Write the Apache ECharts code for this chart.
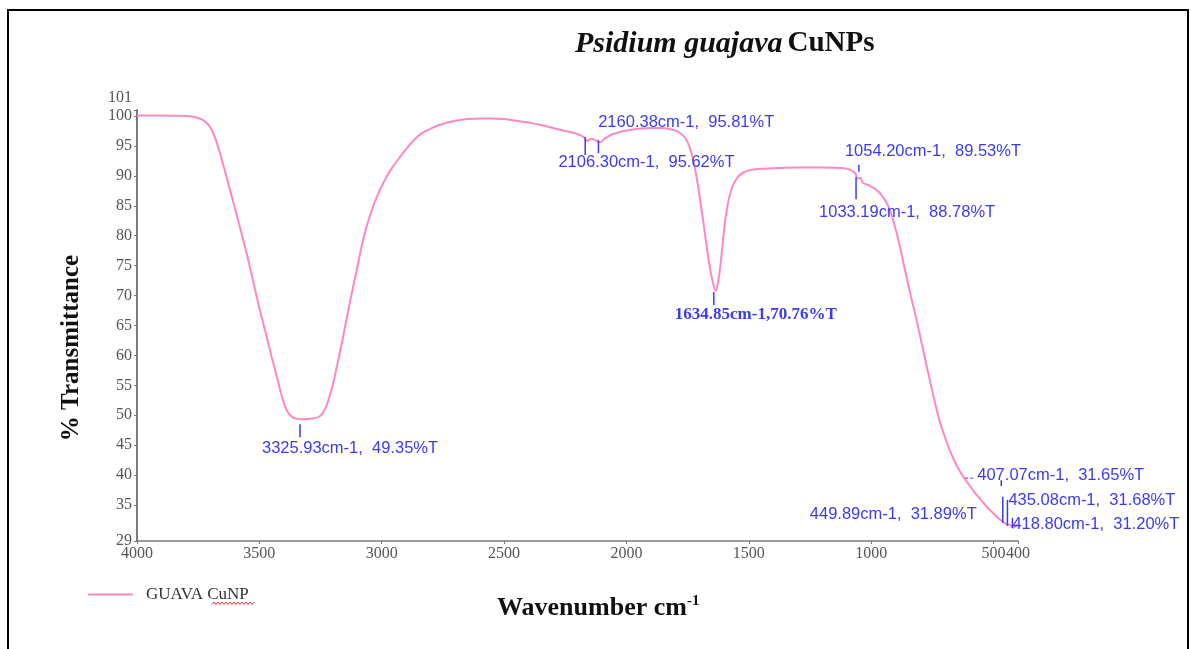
<!DOCTYPE html>
<html>
<head>
<meta charset="utf-8">
<title>Psidium guajava CuNPs FTIR</title>
<script src="https://cdn.jsdelivr.net/npm/echarts@6/dist/echarts.min.js"></script>
<style>
  html, body { margin: 0; padding: 0; background: #fff; }
  #chart { width: 1191px; height: 649px; }
</style>
</head>
<body>
<div id="chart"></div>
<script>
// spectrum (cm-1, %T)
const wavenumbers = [
  4000, 3900, 3800, 3760, 3730, 3705, 3685, 3670, 3650, 3630, 3600, 3575, 3550, 3525, 3500,
  3475, 3450, 3425, 3405, 3385, 3365, 3345, 3325.93, 3300, 3275, 3255, 3240, 3225, 3210, 3195,
  3180, 3160, 3130, 3100, 3075, 3050, 3020, 2990, 2960, 2930, 2900, 2870, 2840, 2800, 2750,
  2700, 2650, 2600, 2550, 2500, 2450, 2400, 2350, 2300, 2250, 2200, 2175, 2160.38, 2145, 2125,
  2106.30, 2090, 2060, 2020, 1980, 1940, 1900, 1860, 1820, 1790, 1770, 1752, 1735, 1720, 1705,
  1690, 1675, 1660, 1648, 1634.85, 1625, 1615, 1605, 1595, 1580, 1565, 1545, 1520, 1490, 1440,
  1380, 1300, 1200, 1120, 1085, 1065, 1054.20, 1045, 1040, 1033.19, 1020, 1000, 980, 960, 940,
  920, 900, 880, 860, 840, 820, 800, 780, 760, 740, 720, 700, 680, 660, 640,
  620, 600, 575, 550, 525, 500, 480, 465, 449.89, 435.08, 425, 418.80, 412, 407.07, 400
];
const transmittance = [
  100.1, 100.1, 100.0, 99.8, 99.3, 98.4, 96.8, 95.0, 92.2, 89.2, 84.6, 80.7, 76.7, 72.3, 67.9,
  63.9, 59.8, 55.9, 52.7, 50.6, 49.7, 49.4, 49.35, 49.4, 49.5, 49.8, 50.4, 51.7, 53.6, 55.9,
  58.8, 62.7, 68.9, 74.7, 79.5, 83.1, 86.5, 89.1, 91.2, 92.9, 94.5, 95.9, 97.0, 97.9, 98.7,
  99.2, 99.5, 99.6, 99.6, 99.5, 99.2, 98.9, 98.5, 98.0, 97.5, 97.0, 96.5, 95.81, 96.2, 95.9,
  95.62, 96.2, 96.9, 97.4, 97.7, 97.9, 98.0, 98.0, 97.8, 97.4, 96.8, 95.8, 93.9, 91.3, 87.6,
  83.5, 79.0, 74.9, 72.4, 70.76, 72.4, 75.4, 79.5, 83.1, 86.4, 88.4, 89.8, 90.6, 91.0, 91.2,
  91.3, 91.4, 91.4, 91.3, 91.0, 90.4, 89.53, 89.7, 89.4, 88.78, 88.6, 88.2, 87.7, 86.9, 85.7,
  83.9, 81.1, 77.7, 73.9, 70.3, 66.9, 63.2, 59.5, 55.8, 52.2, 49.0, 46.5, 44.3, 42.4, 40.8,
  39.5, 38.4, 37.0, 35.8, 34.6, 33.6, 32.8, 32.3, 31.89, 31.68, 31.4, 31.20, 31.4, 31.65, 31.8
];

// picked peaks
const peakWavenumbers = [3325.93, 2160.38, 2106.30, 1634.85, 1054.20, 1033.19, 449.89, 435.08, 418.80, 407.07];
const peakTransmittance = [49.35, 95.81, 95.62, 70.76, 89.53, 88.78, 31.89, 31.68, 31.20, 31.65];

// tick labels
const xTicks = [4000, 3500, 3000, 2500, 2000, 1500, 1000, 500, 400];
const yTicks = [29, 35, 40, 45, 50, 55, 60, 65, 70, 75, 80, 85, 90, 95, 100];
const yTopTick = [101];

// where each peak's tick and label sit, in px from the peak point
const sansFont = '16.5px "Liberation Sans", Arial, sans-serif';
const serifBold = 'bold 17px "Liberation Serif", "Times New Roman", serif';
const peakLayout = [
  { tx: -2, a: 5, b: 18, dx: -40, dy: 29, sep: ',  ', font: sansFont },
  { tx: -2, a: -4, b: 14, dx: 11, dy: -19, sep: ',  ', font: sansFont },
  { tx: -2, a: -2, b: 11, dx: -42, dy: 20, sep: ',  ', font: sansFont },
  { tx: -2, a: 1, b: 14, dx: -41, dy: 24, sep: ',', font: serifBold },
  { tx: 1, a: -14, b: -7, dx: -13, dy: -27, sep: ',  ', font: sansFont },
  { tx: -7, a: -6, b: 16, dx: -44, dy: 29, sep: ',  ', font: sansFont },
  { tx: -3, a: -27, b: -1, dx: -196, dy: -9, sep: ',  ', font: sansFont },
  { tx: -2, a: -25, b: 1, dx: -1, dy: -25, sep: ',  ', font: sansFont },
  { tx: -1, a: -10, b: 0, dx: -1, dy: -3, sep: ',  ', font: sansFont },
  { tx: -15, a: -45, b: -39, dx: -39, dy: -50, sep: ',  ', font: sansFont, lead: [-51, -41, -47] }
];

const serif = '"Liberation Serif", "Times New Roman", serif';
const axisGrey = '#7a7a7a';
const peakColor = '#3b3bf5';
const lineColor = '#ff88c4';

const chart = echarts.init(document.getElementById('chart'));

const spectrum = wavenumbers.map((w, i) => [w, transmittance[i]]);
const peaks = peakWavenumbers.map((w, i) => [w, peakTransmittance[i]]);

// spell-check squiggle under "CuNP" in the legend
const squiggle = [];
for (let x = 212, k = 0; x <= 254; x += 2, k++) {
  squiggle.push([x, k % 2 ? 602 : 604.5]);
}

const tickLabel = {
  formatter: v => String(v),
  showMinLabel: true,
  showMaxLabel: true,
  hideOverlap: false,
  margin: 5,
  fontFamily: serif,
  fontSize: 16,
  color: '#555'
};

const option = {
  backgroundColor: '#fff',
  animation: false,
  title: {
    text: '{i|Psidium guajava} {n|CuNPs}',
    left: 575,
    top: 29,
    padding: 0,
    textStyle: {
      rich: {
        i: { fontFamily: serif, fontStyle: 'italic', fontWeight: 'bold', fontSize: 30, color: '#111' },
        n: { fontFamily: serif, fontWeight: 'bold', fontSize: 29, color: '#111' }
      }
    }
  },
  legend: {
    left: 88,
    top: 586,
    padding: 0,
    itemWidth: 45,
    itemHeight: 14,
    icon: 'path://M0,6 L45,6 L45,8 L0,8 Z',
    textStyle: { fontFamily: serif, fontSize: 17, color: '#333', padding: [0, 0, 0, 8] },
    data: ['GUAVA CuNP']
  },
  grid: {
    left: 137,
    right: 173,
    top: 110,
    bottom: 108
  },
  xAxis: {
    type: 'value',
    min: 400,
    max: 4000,
    inverse: true,
    splitLine: { show: false },
    axisLine: { lineStyle: { color: axisGrey, width: 1.5 } },
    axisTick: { length: 3, lineStyle: { color: axisGrey }, customValues: xTicks },
    axisLabel: Object.assign({ customValues: xTicks }, tickLabel)
  },
  yAxis: [
    {
      type: 'value',
      min: 29,
      max: 101,
      splitLine: { show: false },
      axisLine: { show: true, lineStyle: { color: axisGrey, width: 2 } },
      axisTick: { show: true, length: 3, lineStyle: { color: axisGrey }, customValues: yTicks.concat(yTopTick) },
      axisLabel: Object.assign({ customValues: yTicks }, tickLabel)
    },
    {
      // carries only the "101" label, set just above the axis top
      type: 'value',
      position: 'left',
      min: 29,
      max: 101,
      splitLine: { show: false },
      axisLine: { show: false },
      axisTick: { show: false },
      axisLabel: Object.assign({ customValues: yTopTick, verticalAlign: 'bottom', padding: [0, 0, 4, 0] }, tickLabel)
    }
  ],
  graphic: [
    {
      type: 'rect',
      shape: { x: 8, y: 10, width: 1180, height: 660 },
      style: { fill: 'none', stroke: '#000', lineWidth: 2 },
      silent: true
    },
    {
      type: 'text',
      x: 72,
      y: 348,
      rotation: Math.PI / 2,
      style: {
        text: '% Transmittance',
        font: 'bold 25px ' + serif,
        fill: '#111',
        align: 'center',
        verticalAlign: 'middle'
      }
    },
    {
      type: 'text',
      left: 497,
      top: 594,
      style: {
        text: '{b|Wavenumber cm}{s|-1}',
        rich: {
          b: { font: 'bold 26px ' + serif, fill: '#111', verticalAlign: 'bottom' },
          s: { font: 'bold 15px ' + serif, fill: '#111', verticalAlign: 'top', padding: [0, 0, 12, 0] }
        }
      }
    },
    {
      type: 'polyline',
      shape: { points: squiggle },
      style: { stroke: '#e03030', lineWidth: 1, fill: 'none' },
      silent: true
    }
  ],
  series: [
    {
      name: 'GUAVA CuNP',
      type: 'line',
      data: spectrum,
      symbol: 'none',
      smooth: 0.4,
      lineStyle: { color: lineColor, width: 2 },
      itemStyle: { color: lineColor }
    },
    {
      name: 'peaks',
      type: 'custom',
      coordinateSystem: 'cartesian2d',
      clip: false,
      silent: true,
      z: 5,
      data: peaks,
      renderItem: function (params, api) {
        const w = api.value(0);
        const t = api.value(1);
        const p = api.coord([w, t]);
        const L = peakLayout[params.dataIndex];
        const children = [
          {
            type: 'line',
            shape: { x1: p[0] + L.tx, y1: p[1] + L.a, x2: p[0] + L.tx, y2: p[1] + L.b },
            style: { stroke: peakColor, lineWidth: 1.5 }
          },
          {
            type: 'text',
            x: p[0] + L.dx,
            y: p[1] + L.dy,
            style: {
              text: w.toFixed(2) + 'cm-1' + L.sep + t.toFixed(2) + '%T',
              font: L.font,
              fill: peakColor,
              align: 'left',
              verticalAlign: 'middle'
            }
          }
        ];
        if (L.lead) {
          children.push({
            type: 'line',
            shape: { x1: p[0] + L.lead[0], y1: p[1] + L.lead[2], x2: p[0] + L.lead[1], y2: p[1] + L.lead[2] },
            style: { stroke: peakColor, lineWidth: 1, lineDash: [3, 2] }
          });
        }
        return { type: 'group', children: children };
      }
    }
  ]
};

chart.setOption(option);
</script>
</body>
</html>
